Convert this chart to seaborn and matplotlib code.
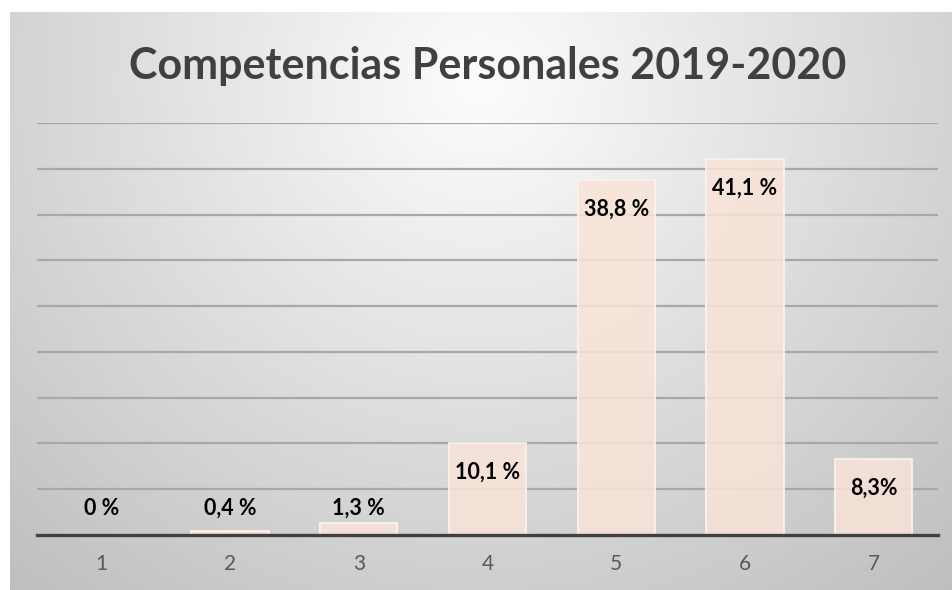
import numpy as np
import pandas as pd
import matplotlib
matplotlib.use("Agg")
import matplotlib.pyplot as plt
import seaborn as sns

# Datos
categorias = ["1", "2", "3", "4", "5", "6", "7"]
porcentajes = [0.0, 0.4, 1.3, 10.1, 38.8, 41.1, 8.3]
etiquetas = ["0 %", "0,4 %", "1,3 %", "10,1 %", "38,8 %", "41,1 %", "8,3%"]
titulo = "Competencias Personales 2019-2020"

df = pd.DataFrame({"categoria": categorias, "valor": porcentajes})

sns.set_theme(style="white")
plt.rcParams["font.family"] = ["Lato", "DejaVu Sans"]

W, H = 953, 590
fig = plt.figure(figsize=(W / 100, H / 100), dpi=100, facecolor="white")

# Fondo con degradado radial (gris claro)
bg = fig.add_axes([10 / W, 0, 1 - 10 / W, 1 - 12 / H], zorder=-10)
yy, xx = np.mgrid[0:578, 0:943]
r = np.sqrt(((xx - 470) / 1.0) ** 2 + ((yy - 70) / 0.95) ** 2)
c = np.clip(253 - 58 * (r / 660), 190, 255) / 255
bg.imshow(np.dstack([c, c, c]), aspect="auto", extent=(0, 1, 0, 1), origin="upper")
bg.set_axis_off()

ax = fig.add_axes([37 / W, 1 - 535 / H, (938 - 37) / W, (535 - 123) / H])
ax.patch.set_alpha(0)

sns.barplot(data=df, x="categoria", y="valor", order=categorias, ax=ax,
            color="#f9e4d9", edgecolor="#fbf3ee", linewidth=1.5,
            width=0.6, saturation=1, zorder=3)

ax.set_ylim(0, 45)
ax.set_yticks(np.arange(5, 50, 5))
ax.yaxis.grid(True, color="#a8a8a8", linewidth=1.6, zorder=0)
ax.set_axisbelow(True)
for bar in ax.patches:
    bar.set_alpha(0.85)

for s in ["top", "right", "left"]:
    ax.spines[s].set_visible(False)
ax.spines["bottom"].set_color("#404040")
ax.spines["bottom"].set_linewidth(2.4)
ax.spines["bottom"].set_zorder(5)

ax.set_yticklabels([])
ax.tick_params(axis="y", length=0)
ax.tick_params(axis="x", length=0, pad=14, labelsize=15, labelcolor="#595959")
ax.set_xlabel("")
ax.set_ylabel("")

for i, (v, t) in enumerate(zip(porcentajes, etiquetas)):
    ax.text(i, max(v - 3.2, 2.9), t, ha="center", va="center",
            fontsize=15.5, fontweight="bold", color="black", zorder=6)

fig.text(488 / W, 1 - 66 / H, titulo, ha="center", va="center",
         fontsize=31, fontweight="bold", color="#404040")

fig.savefig("out.png", dpi=100, facecolor="white")
